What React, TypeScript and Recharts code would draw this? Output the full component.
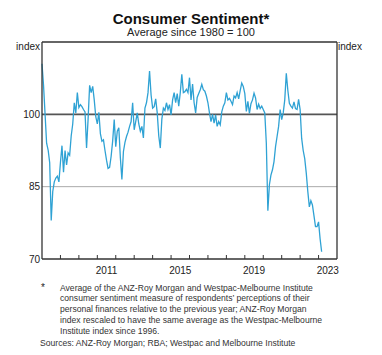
import React from 'react';
import { LineChart, Line, XAxis, YAxis, ReferenceLine } from 'recharts';

// Monthly index, Jan 2008 onwards (average since 1980 = 100)
const START_YEAR = 2008;
const sentiment = [
  110.5, 106, 100, 94, 92.6, 90, 78, 84, 86, 86.8, 87.2, 86,
  90, 93.5, 88, 92.5, 89.5, 92, 91.5, 95.5, 98, 102.4, 100.3, 104.5,
  101.4, 102, 101.6, 101, 100.5, 93, 99, 106, 104.5, 105.8, 103, 99.5,
  98, 100.4, 96, 94.4, 94.7, 92.5, 90.5, 88.8, 89, 91.3, 94.5, 98.9,
  93.3, 96.5, 97.2, 91, 86.5, 92.3, 94.2, 95.4, 96.3, 97.5, 98.5, 102.4,
  96.8, 98.5, 100.3, 98, 96.5, 97.5, 95.1, 101.3, 102.4, 104.5, 109, 104,
  101.3, 101.6, 103.2, 100.3, 95.5, 93, 99, 101.3, 100.8, 102.4, 101, 102,
  99.9, 103, 104.5, 102.4, 104.3, 101.7, 104.5, 108.3, 104.5, 104.7, 105.2, 104.5,
  107.6, 103, 106.3, 102.4, 100.3, 103.5, 104.3, 105.1, 106.2, 105.1, 104.8, 103.8,
  102.4, 100.3, 98.5, 100, 98.2, 99.9, 97.5, 98.5, 97.8, 100.5, 101.7, 102.4,
  104.5, 103, 103.3, 102.7, 102, 103.8, 103.4, 104.5, 103.2, 104.9, 106.5, 105.8,
  104.3, 100.6, 102.7, 100.2, 102.2, 103, 104.4, 103.4, 101, 102.1, 101.2, 101.7,
  101, 100.3, 94, 80, 85.4, 87.4, 88.5, 90.2, 93.3, 95.4, 97.5, 101,
  98.9, 100.3, 103, 108.5, 105, 102.3, 101.7, 101.3, 102.6, 101.2, 101, 103.1,
  101, 95, 92.5, 90.8, 87.8, 84, 80.8, 82.1, 81.2, 79, 76.7, 76.7,
  77.7, 74.2, 71.5,
];

const yearTicks = [2009, 2010, 2011, 2012, 2013, 2014, 2015, 2016, 2017, 2018, 2019, 2020, 2021, 2022, 2023];
const labelYears = [2011, 2015, 2019, 2023];
const yTicks = [70, 85, 100];

const data = sentiment.map((v, i) => ({ t: START_YEAR + i / 12, value: v }));
const xTicks = [...yearTicks, ...labelYears.map(y => y + 0.5)];

const FONT = 'Arial, "Liberation Sans", sans-serif';

const YearTick = (props: any) => {
  const { x, y, payload } = props;
  const v = payload.value as number;
  if (Number.isInteger(v)) {
    return <line x1={x} x2={x} y1={y} y2={y - 4} stroke="#333" strokeWidth={1} />;
  }
  return (
    <text x={x} y={y + 15} textAnchor="middle" fontSize={10} fill="#222" fontFamily={FONT}>
      {Math.floor(v)}
    </text>
  );
};

const abs = (extra: React.CSSProperties): React.CSSProperties => ({
  position: 'absolute',
  fontFamily: FONT,
  color: '#222',
  whiteSpace: 'nowrap',
  ...extra,
});

export default function App() {
  return (
    <div style={{ position: 'relative', width: 382, height: 355, marginLeft: -8, marginTop: -8, background: '#fff' }}>
      <div style={abs({ left: 0, width: 382, top: 11, textAlign: 'center', fontSize: 15, fontWeight: 'bold', lineHeight: '15px', color: '#111' })}>
        Consumer Sentiment*
      </div>
      <div style={abs({ left: 0, width: 382, top: 27, textAlign: 'center', fontSize: 11, lineHeight: '11px' })}>
        Average since 1980 = 100
      </div>
      <div style={abs({ left: 0, width: 40, top: 41.5, textAlign: 'right', fontSize: 10, lineHeight: 1 })}>index</div>
      <div style={abs({ left: 338, top: 41.5, fontSize: 10, lineHeight: 1 })}>index</div>

      <div style={{ position: 'absolute', left: 0, top: 0 }}>
        <LineChart width={382} height={279} data={data} margin={{ top: 42, right: 0, bottom: 0, left: 0 }}>
          <XAxis
            dataKey="t"
            type="number"
            domain={[2008, 2024]}
            ticks={xTicks}
            interval={0}
            tick={<YearTick />}
            tickLine={false}
            tickSize={0}
            tickMargin={0}
            height={20}
            axisLine={{ stroke: '#333', strokeWidth: 1.3 }}
          />
          <YAxis
            yAxisId="left"
            orientation="left"
            domain={[70, 115]}
            ticks={yTicks}
            interval={0}
            width={42}
            tickLine={false}
            tickSize={0}
            tickMargin={2}
            tick={{ fontSize: 10, fill: '#222', fontFamily: FONT }}
            axisLine={{ stroke: '#333', strokeWidth: 1.3 }}
          />
          <YAxis
            yAxisId="right"
            orientation="right"
            domain={[70, 115]}
            ticks={yTicks}
            interval={0}
            width={45}
            tickLine={false}
            tickSize={0}
            tickMargin={2}
            tick={{ fontSize: 10, fill: '#222', fontFamily: FONT }}
            axisLine={{ stroke: '#333', strokeWidth: 1.3 }}
          />
          <ReferenceLine yAxisId="left" y={115} stroke="#333" strokeWidth={1.3} />
          <ReferenceLine yAxisId="left" y={85} stroke="#aaa" strokeWidth={1} />
          <ReferenceLine yAxisId="left" y={100} stroke="#555" strokeWidth={1.6} />
          <Line
            yAxisId="left"
            type="linear"
            dataKey="value"
            stroke="#2fa2d4"
            strokeWidth={1.3}
            dot={false}
            isAnimationActive={false}
          />
        </LineChart>
      </div>

      <div style={abs({ left: 41, top: 283, fontSize: 10, lineHeight: 1 })}>*</div>
      <div style={abs({ left: 60, top: 282.6, fontSize: 8.6, lineHeight: '10.8px', color: '#333' })}>
        Average of the ANZ-Roy Morgan and Westpac-Melbourne Institute<br />
        consumer sentiment measure of respondents’ perceptions of their<br />
        personal finances relative to the previous year; ANZ-Roy Morgan<br />
        index rescaled to have the same average as the Westpac-Melbourne<br />
        Institute index since 1996.
      </div>
      <div style={abs({ left: 40, top: 337.5, fontSize: 8.6, lineHeight: '10.8px', color: '#333' })}>
        Sources: ANZ-Roy Morgan; RBA; Westpac and Melbourne Institute
      </div>
    </div>
  );
}
